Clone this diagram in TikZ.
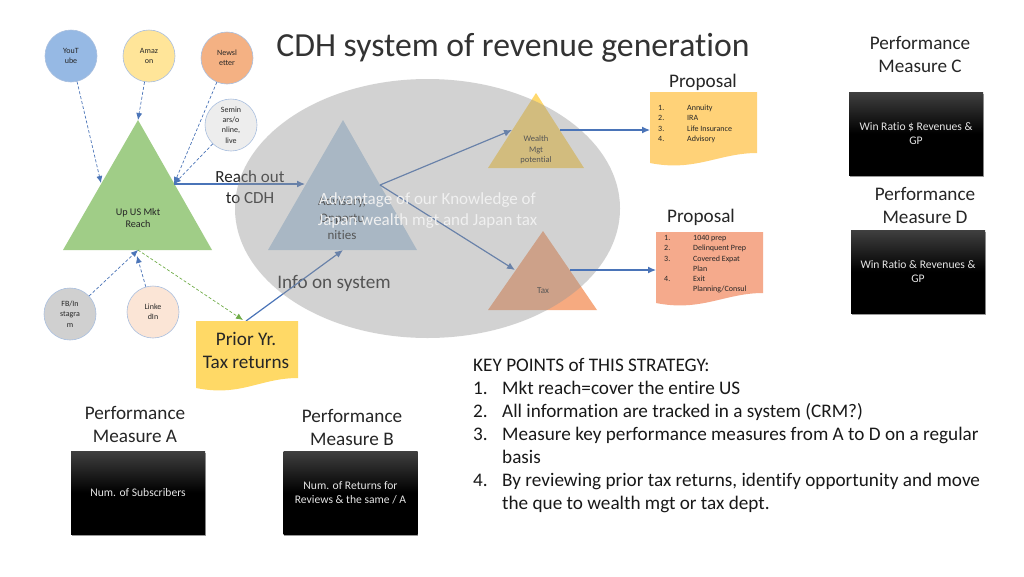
\documentclass[tikz,border=0pt]{standalone}
\usepackage{fontspec}
\setmainfont[Ligatures=NoCommon]{Carlito}
\usetikzlibrary{arrows.meta,shadows}
\definecolor{arrowblue}{HTML}{4A74B8}
\definecolor{edgeblue}{HTML}{A9BFDF}
\tikzset{
  x=1pt,y=-1pt,
  bub/.style={circle,draw=edgeblue,line width=0.6pt,minimum size=52pt,inner sep=0pt,align=center,font=\fontsize{8}{10.4}\selectfont,text=black!85},
  dashconn/.style={arrowblue,densely dashed,line width=0.7pt,-{Latex[length=7pt,width=6pt]}},
  conn/.style={arrowblue,line width=1.2pt,-{Latex[length=8pt,width=7pt]}},
  big/.style={font=\fontsize{19.2}{23}\selectfont,align=center,text=black!85},
  small/.style={font=\fontsize{8.5}{10.5}\selectfont,align=center},
  blackbox/.style={minimum width=134pt,minimum height=83pt,inner sep=2pt,align=center,text=white!90!black,font=\fontsize{11.6}{14}\selectfont,top color=black!75,bottom color=black,middle color=black,general shadow={fill=black!40,shadow xshift=0.5pt,shadow yshift=-1.5pt}},
}
\newcommand{\docshape}[5]{% left,top,right,bottom,colour
  \fill[#5] (#1,#2) -- (#3,#2) -- (#3,#4-14) .. controls (#3-38,#4-14) and (#1+45,#4+5) .. (#1,#4-4) -- cycle;}
\newcommand{\kp}[1]{\makebox[29pt][l]{#1}}
\begin{document}
\begin{tikzpicture}
\useasboundingbox (0,0) rectangle (1024,576);
\fill[white] (0,0) rectangle (1024,576);
% triangles under the ellipse
\fill[fill={rgb,255:red,160;green,205;blue,135}] (138,120) -- (212,250) -- (63,250) -- cycle;
\fill[fill={rgb,255:red,184;green,208;blue,230}] (343,120) -- (417,250) -- (268,250) -- cycle;
\fill[fill={rgb,255:red,255;green,217;blue,110}] (536,93) -- (584,168) -- (488,168) -- cycle;
\fill[fill={rgb,255:red,246;green,170;blue,128}] (543,231) -- (597,310) -- (488,310) -- cycle;
% named points
\coordinate (ggL) at (101,183);
\coordinate (ggA) at (138,120);
\coordinate (ggR) at (174,184);
\coordinate (ggB) at (138,250);
\coordinate (ggB2) at (137,256);
\coordinate (ooL) at (305,184);
\coordinate (ooB) at (343,250);
\coordinate (ooR) at (380,185);
\coordinate (wwL) at (512,130);
\coordinate (wwR) at (560,130);
\coordinate (ttL) at (515,270);
\coordinate (ttR) at (570,270);
\coordinate (p1L) at (650,130);
\coordinate (p2L) at (656,270);
\coordinate (ppT) at (246,321);
\coordinate (ppD) at (243,320);
% nodes
\node[small,text=black!85,font=\fontsize{10.2}{12.5}\selectfont] (upus) at (138,218) {Up US Mkt\\Reach};
\node[font=\fontsize{13}{17}\selectfont,align=center,text=black!85] (opp) at (342,218) {Advisory,\\Opportu\\nities};
\node[small,text=black!85] (wealth) at (536,150) {Wealth\\Mgt\\potential};
\node[small,text=black!85,font=\fontsize{9}{11}\selectfont] (tax) at (543,291) {Tax};
\node[big,font=\fontsize{17}{21}\selectfont] (reach) at (250,187) {Reach out\\to CDH};
\node[big] (info) at (334,283) {Info on system};
% connectors under the ellipse
\draw[conn] (ggR) -- (ooL);
\draw[conn] (ppT) -- (ooB);
\draw[conn] (ooR) -- (wwL);
\draw[conn] (ooR) -- (ttL);
% ellipse
\fill[fill={rgb,255:red,150;green,150;blue,150},fill opacity=0.42] (427.5,208.5) ellipse [x radius=192.5,y radius=129.5];
\node[font=\fontsize{17}{21}\selectfont,align=center,text=white!94!black] (adv) at (427.5,211) {Advantage of our Knowledge of\\Japan wealth mgt and Japan tax};
% title
\node[font=\fontsize{33.7}{38}\selectfont,text=black!80] (title) at (513,48) {CDH system of revenue generation};
% circles
\node[bub,fill={rgb,255:red,150;green,185;blue,228}] (yt) at (71,56) {YouT\\ube};
\node[bub,fill={rgb,255:red,255;green,229;blue,153}] (am) at (149,56) {Amaz\\on};
\node[bub,fill={rgb,255:red,244;green,177;blue,131}] (nl) at (227,58) {Newsl\\etter};
\node[bub,fill={rgb,255:red,237;green,237;blue,237}] (se) at (231,125) {Semin\\ars/o\\nline,\\live};
\node[bub,fill={rgb,255:red,208;green,208;blue,208}] (fb) at (70,314) {FB/In\\stagra\\m};
\node[bub,fill={rgb,255:red,251;green,229;blue,214}] (li) at (153,312) {Linke\\dIn};
% dashed connectors
\draw[dashconn] (yt) -- (ggL);
\draw[dashconn] (am) -- (ggA);
\draw[dashconn] (nl) -- (ggR);
\draw[dashconn] (se) -- (ggR);
\draw[dashconn] (fb) -- (ggB);
\draw[dashconn] (li) -- (ggB2);
\draw[densely dashed,line width=0.7pt,color={rgb,255:red,112;green,173;blue,71},-{Latex[length=7pt,width=6pt]}] (ggB) -- (ppD);
% documents
\docshape{196}{321}{298}{392}{fill={rgb,255:red,255;green,217;blue,102}}
\node[big] (prior) at (246,350) {Prior Yr.\\Tax returns};
\docshape{650}{92}{757}{167}{fill={rgb,255:red,255;green,210;blue,120}}
\docshape{656}{232}{763}{307}{fill={rgb,255:red,245;green,170;blue,140}}
\draw[conn] (wwR) -- (p1L);
\draw[conn] (ttR) -- (p2L);
\node[font=\fontsize{8}{10.3}\selectfont,anchor=north west,inner sep=0pt,text=black!85] (l1) at (658,103) {\begin{tabular}{@{}p{29pt}@{}l@{}}1.&Annuity\\2.&IRA\\3.&Life Insurance\\4.&Advisory\end{tabular}};
\node[font=\fontsize{8}{10.3}\selectfont,anchor=north west,inner sep=0pt,text=black!85] (l2) at (664,233) {\begin{tabular}{@{}p{29pt}@{}l@{}}1.&1040 prep\\2.&Delinquent Prep\\3.&Covered Expat\\&Plan\\4.&Exit\\&Planning/Consul\end{tabular}};
\node[big,text=black!85] (prop1) at (703,82) {Proposal};
\node[big,text=black!85] (prop2) at (701,217) {Proposal};
% black boxes
\node[blackbox] (bc) at (916,133.5) {Win Ratio \$ Revenues \&\\GP};
\node[blackbox] (bd) at (918,271.5) {Win Ratio \& Revenues \&\\GP};
\node[blackbox] (ba) at (138,492.5) {Num. of Subscribers};
\node[blackbox] (bb) at (350.5,492.5) {Num. of Returns for\\Reviews \& the same / A};
\node[big] (mc) at (920,54) {Performance\\Measure C};
\node[big] (md) at (925,205) {Performance\\Measure D};
\node[big] (ma) at (135,424) {Performance\\Measure A};
\node[big] (mb) at (352,427) {Performance\\Measure B};
% key points
\node[anchor=north west,inner sep=0pt,font=\fontsize{19.2}{23}\selectfont,align=left,text=black!90] (kp) at (473,358.5) {KEY POINTS of THIS STRATEGY:\\\kp{1.}Mkt reach=cover the entire US\\\kp{2.}All information are tracked in a system (CRM?)\\\kp{3.}Measure key performance measures from A to D on a regular\\\kp{}basis\\\kp{4.}By reviewing prior tax returns, identify opportunity and move\\\kp{}the que to wealth mgt or tax dept.};
\end{tikzpicture}
\end{document}
